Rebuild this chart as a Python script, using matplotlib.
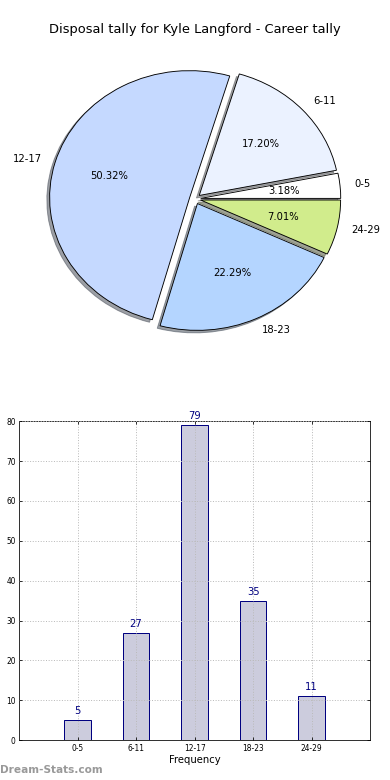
import numpy as np
import matplotlib
matplotlib.use('Agg')
import matplotlib.pyplot as plt

# ============================================================
#  Donnees
# ============================================================
categories = ['0-5', '6-11', '12-17', '18-23', '24-29']
tally = [5, 27, 79, 35, 11]
pie_colors = ['#ffffff', '#ebf2ff', '#c5d9ff', '#b4d5ff', '#d1ec8c']
title = 'Disposal tally for Kyle Langford - Career tally'

DPI = 72
fig = plt.figure(figsize=(390 / DPI, 780 / DPI), dpi=DPI)

# ============================================================
#  Camembert (ellipse, pas d'aspect egal)
# ============================================================
ax1 = fig.add_axes([0.0872, 0.558, 0.826, 0.374])
ax1.pie(tally, labels=categories, colors=pie_colors, explode=[0.04] * 5,
        autopct='%1.2f%%', shadow=True, startangle=0,
        wedgeprops=dict(edgecolor='black', linewidth=0.9),
        textprops=dict(fontsize=10))
ax1.set_aspect('auto')
ax1.set_xlim(-1.15, 1.15)
ax1.set_ylim(-1.15, 1.15)
ax1.axis('off')
fig.text(0.5, 1 - 30 / 780, title, ha='center', va='center', fontsize=13)

# ============================================================
#  Histogramme
# ============================================================
ax2 = fig.add_axes([0.049, 0.051, 0.9, 0.409])
x = np.arange(1, len(categories) + 1)
ax2.bar(x, tally, width=0.45, color='#ccccdd', edgecolor='#000080', linewidth=1)
for xi, v in zip(x, tally):
    ax2.text(xi, v + 1, str(v), ha='center', va='bottom', color='#000080', fontsize=10)
ax2.set_xlim(0, 6)
ax2.set_ylim(0, 80)
ax2.set_xticks(x)
ax2.set_xticklabels(categories)
ax2.set_yticks(range(0, 81, 10))
ax2.tick_params(labelsize=7.5, direction='in', top=True, right=True, length=3)
ax2.grid(True, linestyle=':', color='#bbbbbb', linewidth=1)
ax2.set_axisbelow(False)
ax2.set_xlabel('Frequency', fontsize=10, labelpad=2)

fig.text(0.0, 1 - 770 / 780, 'Dream-Stats.com', ha='left', va='center',
         fontsize=10.5, color='#999999', fontweight='bold')

plt.savefig('out.png', dpi=DPI)
